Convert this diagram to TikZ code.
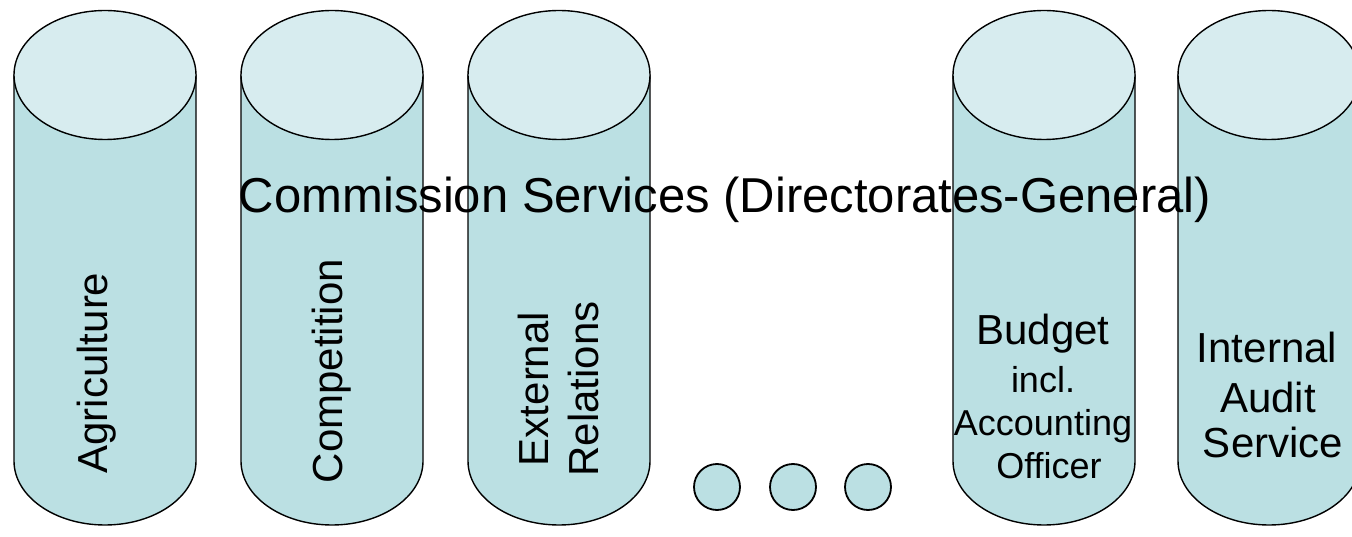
\documentclass[tikz,border=0pt]{standalone}
\usepackage{fontspec}
\setmainfont{Liberation Sans}
\definecolor{cyltop}{RGB}{215,236,239}
\definecolor{cylbody}{RGB}{187,224,227}
\tikzset{
  cylbodystyle/.style={draw=black, line width=1.4pt, fill=cylbody},
  cyltopstyle/.style={draw=black, line width=1.4pt, fill=cyltop},
  dotnode/.style={circle, draw=black, line width=1.8pt, fill=cylbody, minimum size=46pt, inner sep=0pt},
  lbl/.style={inner sep=0pt, anchor=base, text=black},
  big/.style={font=\fontsize{42}{50}\selectfont},
  small/.style={font=\fontsize{36}{43}\selectfont},
}
\newcommand{\mycyl}[1]{%
  \path[cylbodystyle] (#1-91,461) -- (#1-91,75)
    arc[start angle=180, end angle=360, x radius=91, y radius=64] -- (#1+91,461) -- cycle;
  \path[cyltopstyle] (#1,461) ellipse[x radius=91, y radius=64.5];
}
\begin{document}
\begin{tikzpicture}[x=1pt,y=1pt]
\useasboundingbox (0,0) rectangle (1352,536);
\mycyl{105}
\mycyl{332}
\mycyl{559}
\mycyl{1044}
\mycyl{1269}
\node[dotnode] (d1) at (717,49) {};
\node[dotnode] (d2) at (793,49) {};
\node[dotnode] (d3) at (868,49) {};
\node[lbl, big, rotate=90] (agri) at (107,163) {Agriculture};
\node[lbl, big, rotate=90] (comp) at (342,165) {Competition};
\node[lbl, big, rotate=90] (ext) at (548,147) {External};
\node[lbl, big, rotate=90] (rel) at (598,147) {Relations};
\node[lbl, big] (bud1) at (1043,191) {Budget};
\node[lbl, small] (bud2) at (1043,144) {incl.};
\node[lbl, small] (bud3) at (1043,101) {Accounting};
\node[lbl, small] (bud4) at (1049,58) {Officer};
\node[lbl, big] (ias1) at (1267,173) {Internal};
\node[lbl, big] (ias2) at (1268,124) {Audit};
\node[lbl, big] (ias3) at (1273,79) {Service};
\node[lbl, font=\fontsize{49}{59}\selectfont] (title) at (725,323) {Commission Services (Directorates-General)};
\end{tikzpicture}
\end{document}
